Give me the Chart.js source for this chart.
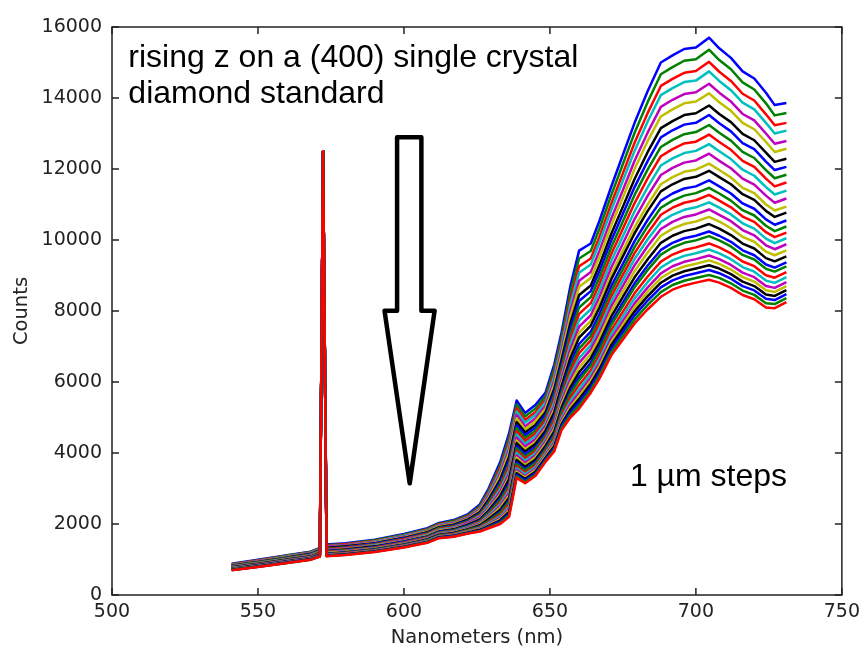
<!DOCTYPE html>
<html>
<head>
<meta charset="utf-8">
<script src="https://cdn.jsdelivr.net/npm/chart.js@4.4.1/dist/chart.umd.min.js"></script>
<style>
  html, body { margin: 0; padding: 0; background: #fff; }
</style>
</head>
<body>
<canvas id="spectraChart" width="866" height="654"></canvas>
<script>
// wavelength grid (nm) shared by all 31 spectra
const wavelengths = [541, 550, 560, 568, 571.2, 572.3, 573.5, 580, 590, 600, 608, 612, 617, 622, 626, 629, 633, 636, 638.6, 641.5,
  645, 648.5, 651.5, 654, 657, 660, 664, 667, 671, 675, 679, 683.5, 688, 692, 696, 700, 704.5, 708, 712, 716, 720, 724, 727, 731];

// counts for each 1 um step, top curve first
const stepCounts = [
  [880, 990, 1120, 1220, 1330, 12500, 1420, 1460, 1560, 1720, 1880, 2030, 2110, 2280, 2550, 3000, 3750, 4550, 5480, 5130, 5350, 5700, 6500, 7400, 8700, 9700, 9900, 10550, 11500, 12400, 13300, 14200, 15000, 15200, 15380, 15420, 15700, 15400, 15130, 14750, 14550, 14150, 13800, 13860],
  [870, 980, 1110, 1210, 1320, 12500, 1400, 1440, 1540, 1700, 1860, 2010, 2090, 2250, 2510, 2940, 3660, 4430, 5370, 5030, 5250, 5600, 6380, 7260, 8520, 9480, 9690, 10330, 11260, 12140, 13020, 13890, 14670, 14870, 15050, 15090, 15360, 15070, 14810, 14440, 14240, 13850, 13510, 13580],
  [860, 970, 1100, 1200, 1300, 12500, 1390, 1430, 1520, 1680, 1840, 1990, 2060, 2220, 2470, 2890, 3580, 4320, 5260, 4930, 5150, 5500, 6250, 7120, 8330, 9260, 9480, 10100, 11020, 11880, 12740, 13580, 14340, 14540, 14710, 14760, 15020, 14740, 14480, 14120, 13930, 13540, 13230, 13300],
  [855, 960, 1090, 1190, 1290, 12500, 1370, 1410, 1510, 1670, 1820, 1970, 2040, 2200, 2440, 2840, 3500, 4220, 5170, 4850, 5070, 5430, 6160, 7020, 8180, 9080, 9310, 9930, 10840, 11670, 12510, 13340, 14080, 14280, 14450, 14490, 14750, 14480, 14220, 13870, 13680, 13300, 13000, 13080],
  [845, 950, 1080, 1180, 1280, 12500, 1360, 1400, 1490, 1650, 1800, 1950, 2020, 2180, 2410, 2790, 3420, 4100, 5070, 4750, 4970, 5330, 6030, 6880, 8000, 8850, 9100, 9700, 10600, 11410, 12230, 13030, 13750, 13950, 14110, 14160, 14400, 14150, 13900, 13550, 13370, 13000, 12710, 12790],
  [840, 940, 1070, 1170, 1270, 12500, 1340, 1380, 1480, 1630, 1790, 1930, 2000, 2150, 2380, 2740, 3350, 4010, 4980, 4670, 4890, 5250, 5940, 6770, 7850, 8680, 8930, 9530, 10410, 11200, 12000, 12790, 13480, 13680, 13850, 13900, 14130, 13880, 13640, 13300, 13120, 12760, 12480, 12570],
  [830, 930, 1060, 1160, 1260, 12500, 1330, 1370, 1460, 1610, 1770, 1910, 1980, 2130, 2340, 2690, 3260, 3890, 4870, 4580, 4790, 5150, 5810, 6630, 7660, 8450, 8720, 9300, 10170, 10940, 11720, 12480, 13150, 13350, 13520, 13570, 13790, 13550, 13320, 12990, 12810, 12460, 12200, 12290],
  [820, 925, 1050, 1150, 1250, 12500, 1310, 1350, 1450, 1600, 1750, 1890, 1960, 2100, 2310, 2640, 3190, 3800, 4780, 4500, 4710, 5080, 5720, 6520, 7520, 8280, 8560, 9130, 9980, 10740, 11490, 12230, 12890, 13090, 13250, 13300, 13520, 13290, 13060, 12730, 12560, 12210, 11970, 12060],
  [815, 920, 1040, 1140, 1240, 12500, 1300, 1340, 1430, 1580, 1730, 1880, 1940, 2080, 2280, 2600, 3120, 3700, 4700, 4420, 4630, 5000, 5620, 6410, 7370, 8100, 8390, 8950, 9790, 10530, 11270, 11990, 12620, 12820, 12980, 13040, 13240, 13020, 12800, 12480, 12310, 11970, 11740, 11840],
  [810, 910, 1030, 1130, 1230, 12500, 1290, 1330, 1420, 1570, 1720, 1860, 1920, 2060, 2250, 2550, 3050, 3610, 4610, 4340, 4550, 4920, 5520, 6300, 7220, 7920, 8220, 8770, 9600, 10320, 11040, 11740, 12360, 12560, 12720, 12770, 12970, 12760, 12540, 12230, 12060, 11730, 11510, 11620],
  [800, 900, 1020, 1120, 1220, 12500, 1270, 1310, 1410, 1550, 1700, 1840, 1900, 2040, 2220, 2510, 2980, 3520, 4520, 4260, 4470, 4840, 5420, 6190, 7070, 7740, 8050, 8590, 9410, 10110, 10810, 11490, 12100, 12300, 12450, 12510, 12700, 12500, 12280, 11980, 11810, 11490, 11280, 11390],
  [790, 890, 1010, 1110, 1210, 12500, 1260, 1300, 1390, 1540, 1680, 1820, 1880, 2020, 2190, 2460, 2910, 3420, 4430, 4180, 4390, 4760, 5320, 6080, 6920, 7560, 7880, 8410, 9220, 9900, 10590, 11250, 11830, 12030, 12180, 12240, 12430, 12230, 12020, 11730, 11560, 11250, 11050, 11170],
  [785, 885, 1005, 1100, 1200, 12500, 1250, 1290, 1380, 1520, 1670, 1810, 1870, 1990, 2150, 2420, 2840, 3330, 4350, 4100, 4310, 4690, 5230, 5970, 6780, 7390, 7720, 8240, 9030, 9700, 10360, 11000, 11570, 11770, 11920, 11980, 12150, 11970, 11760, 11470, 11320, 11000, 10830, 10940],
  [780, 880, 1000, 1090, 1190, 12500, 1240, 1280, 1370, 1510, 1650, 1790, 1850, 1980, 2130, 2380, 2790, 3260, 4280, 4040, 4250, 4630, 5150, 5890, 6670, 7250, 7590, 8100, 8890, 9540, 10190, 10820, 11370, 11570, 11720, 11780, 11950, 11770, 11570, 11290, 11130, 10820, 10650, 10770],
  [775, 870, 990, 1080, 1180, 12500, 1230, 1270, 1350, 1500, 1640, 1780, 1830, 1960, 2100, 2340, 2720, 3160, 4190, 3960, 4170, 4550, 5050, 5780, 6520, 7070, 7420, 7920, 8700, 9330, 9970, 10570, 11110, 11310, 11450, 11510, 11680, 11510, 11310, 11030, 10880, 10580, 10430, 10550],
  [770, 865, 985, 1075, 1175, 12500, 1220, 1260, 1340, 1480, 1630, 1760, 1820, 1940, 2080, 2310, 2670, 3090, 4130, 3900, 4110, 4490, 4980, 5700, 6410, 6940, 7300, 7790, 8560, 9180, 9800, 10390, 10910, 11110, 11250, 11320, 11470, 11310, 11110, 10840, 10690, 10400, 10250, 10380],
  [765, 860, 980, 1070, 1170, 12500, 1210, 1250, 1330, 1470, 1610, 1750, 1800, 1920, 2060, 2270, 2610, 3020, 4060, 3840, 4050, 4430, 4910, 5610, 6300, 6810, 7170, 7660, 8410, 9020, 9630, 10200, 10710, 10910, 11050, 11120, 11270, 11110, 10920, 10660, 10510, 10220, 10080, 10210],
  [760, 855, 970, 1065, 1160, 12500, 1200, 1240, 1320, 1460, 1600, 1740, 1790, 1910, 2030, 2240, 2560, 2950, 4000, 3780, 3990, 4370, 4830, 5530, 6180, 6670, 7040, 7520, 8270, 8860, 9460, 10020, 10510, 10710, 10850, 10920, 11060, 10910, 10720, 10470, 10320, 10040, 9910, 10050],
  [750, 850, 965, 1055, 1150, 12500, 1190, 1230, 1310, 1450, 1590, 1725, 1775, 1890, 2010, 2200, 2510, 2880, 3930, 3720, 3930, 4320, 4760, 5450, 6070, 6540, 6920, 7390, 8130, 8710, 9290, 9830, 10310, 10510, 10650, 10720, 10860, 10710, 10530, 10280, 10130, 9850, 9740, 9880],
  [745, 840, 955, 1050, 1145, 12500, 1180, 1220, 1300, 1440, 1575, 1710, 1760, 1870, 1990, 2170, 2460, 2810, 3870, 3660, 3870, 4260, 4690, 5370, 5960, 6410, 6790, 7260, 7990, 8550, 9120, 9650, 10120, 10320, 10450, 10520, 10650, 10520, 10330, 10090, 9950, 9670, 9570, 9710],
  [740, 835, 950, 1045, 1140, 12500, 1165, 1205, 1290, 1425, 1565, 1700, 1750, 1855, 1965, 2140, 2400, 2740, 3800, 3610, 3810, 4200, 4610, 5280, 5850, 6270, 6670, 7120, 7840, 8400, 8950, 9460, 9920, 10120, 10250, 10320, 10450, 10320, 10140, 9900, 9760, 9490, 9400, 9540],
  [735, 830, 945, 1035, 1130, 12500, 1155, 1195, 1280, 1415, 1550, 1685, 1735, 1840, 1940, 2100, 2350, 2670, 3740, 3550, 3750, 4140, 4540, 5200, 5740, 6140, 6540, 6990, 7700, 8240, 8780, 9280, 9720, 9920, 10050, 10120, 10240, 10120, 9950, 9710, 9570, 9310, 9220, 9370],
  [732, 826, 940, 1030, 1125, 12500, 1150, 1190, 1273, 1408, 1544, 1677, 1725, 1829, 1927, 2082, 2315, 2623, 3690, 3510, 3710, 4100, 4490, 5145, 5666, 6051, 6456, 6901, 7605, 8136, 8667, 9157, 9588, 9788, 9920, 9990, 10110, 9990, 9820, 9580, 9450, 9190, 9110, 9260],
  [727, 820, 933, 1025, 1118, 12500, 1140, 1180, 1263, 1397, 1532, 1665, 1711, 1813, 1904, 2048, 2263, 2553, 3627, 3447, 3650, 4043, 4418, 5063, 5555, 5918, 6330, 6768, 7463, 7980, 8498, 8973, 9390, 9590, 9719, 9793, 9903, 9790, 9622, 9395, 9263, 9008, 8938, 9092],
  [723, 815, 928, 1019, 1111, 12500, 1131, 1171, 1254, 1388, 1521, 1654, 1699, 1799, 1885, 2020, 2219, 2494, 3573, 3398, 3600, 3994, 4356, 4994, 5463, 5806, 6225, 6656, 7344, 7850, 8356, 8819, 9225, 9425, 9553, 9628, 9733, 9625, 9460, 9238, 9108, 8856, 8795, 8951],
  [718, 810, 922, 1013, 1105, 12500, 1123, 1163, 1245, 1378, 1511, 1643, 1687, 1785, 1866, 1992, 2175, 2435, 3518, 3348, 3550, 3945, 4295, 4925, 5370, 5695, 6120, 6545, 7225, 7720, 8215, 8665, 9060, 9260, 9386, 9462, 9562, 9460, 9298, 9080, 8952, 8705, 8652, 8811],
  [714, 806, 918, 1008, 1100, 12500, 1116, 1156, 1238, 1370, 1503, 1634, 1678, 1774, 1851, 1970, 2140, 2388, 3474, 3308, 3510, 3906, 4246, 4870, 5296, 5606, 6036, 6456, 7130, 7616, 8102, 8542, 8928, 9128, 9253, 9330, 9426, 9328, 9168, 8954, 8828, 8584, 8538, 8699],
  [711, 802, 913, 1004, 1095, 12500, 1110, 1150, 1231, 1363, 1495, 1626, 1668, 1763, 1836, 1947, 2105, 2341, 3431, 3269, 3470, 3867, 4197, 4815, 5222, 5517, 5952, 6367, 7035, 7512, 7989, 8419, 8796, 8996, 9120, 9197, 9289, 9196, 9039, 8828, 8703, 8463, 8423, 8587],
  [707, 798, 909, 999, 1090, 12500, 1103, 1143, 1224, 1355, 1486, 1617, 1659, 1752, 1820, 1925, 2070, 2294, 3387, 3229, 3430, 3828, 4148, 4760, 5148, 5428, 5868, 6278, 6940, 7408, 7876, 8296, 8664, 8864, 8986, 9065, 9153, 9064, 8909, 8702, 8579, 8342, 8309, 8474],
  [704, 794, 904, 995, 1085, 12500, 1097, 1137, 1217, 1348, 1478, 1609, 1649, 1741, 1805, 1902, 2035, 2247, 3344, 3190, 3390, 3789, 4099, 4705, 5074, 5339, 5784, 6189, 6845, 7304, 7763, 8173, 8532, 8732, 8853, 8932, 9016, 8932, 8780, 8576, 8454, 8221, 8194, 8362],
  [700, 790, 900, 990, 1080, 12500, 1090, 1130, 1210, 1340, 1470, 1600, 1640, 1730, 1790, 1880, 2000, 2200, 3300, 3150, 3350, 3750, 4050, 4650, 5000, 5250, 5700, 6100, 6750, 7200, 7650, 8050, 8400, 8600, 8720, 8800, 8880, 8800, 8650, 8450, 8330, 8100, 8080, 8250]
];

// matplotlib classic colour cycle
const lineColors = ['#0000ff', '#008000', '#ff0000', '#00bfbf', '#bf00bf', '#bfbf00', '#000000'];

const xTicks = [500, 550, 600, 650, 700, 750];
const yTicks = [0, 2000, 4000, 6000, 8000, 10000, 12000, 14000, 16000];

// block arrow outline, in data units [nm, counts]
const arrowOutline = [[597.65, 12893], [605.97, 12893], [605.97, 8008], [610.5, 8008],
  [601.98, 3146], [593.35, 8008], [597.65, 8008]];

const notes = [
  { text: 'rising z on a (400) single crystal', nm: 505.6, counts: 14874 },
  { text: 'diamond standard', nm: 505.6, counts: 13860 },
  { text: '1 \u00b5m steps', nm: 677.4, counts: 3070 }
];

const tickFont = { family: '"DejaVu Sans", sans-serif', size: 19 };
const titleFont = { family: '"DejaVu Sans", sans-serif', size: 19.5 };

// frame, inward ticks on all sides, arrow and text
const decorPlugin = {
  id: 'decor',
  afterDraw(chart) {
    const { ctx, chartArea: a, scales: { x, y } } = chart;
    ctx.save();
    ctx.strokeStyle = '#222';
    ctx.lineWidth = 1.5;
    ctx.strokeRect(a.left, a.top, a.right - a.left, a.bottom - a.top);
    ctx.beginPath();
    xTicks.forEach(v => {
      const px = x.getPixelForValue(v);
      ctx.moveTo(px, a.bottom); ctx.lineTo(px, a.bottom - 7);
      ctx.moveTo(px, a.top); ctx.lineTo(px, a.top + 7);
    });
    yTicks.forEach(v => {
      const py = y.getPixelForValue(v);
      ctx.moveTo(a.left, py); ctx.lineTo(a.left + 7, py);
      ctx.moveTo(a.right, py); ctx.lineTo(a.right - 7, py);
    });
    ctx.stroke();

    ctx.strokeStyle = '#000';
    ctx.lineWidth = 4.5;
    ctx.lineJoin = 'round';
    ctx.beginPath();
    arrowOutline.forEach(([nm, c], i) => {
      const px = x.getPixelForValue(nm), py = y.getPixelForValue(c);
      if (i === 0) ctx.moveTo(px, py); else ctx.lineTo(px, py);
    });
    ctx.closePath();
    ctx.stroke();

    ctx.fillStyle = '#000';
    ctx.font = '32px "Liberation Sans", Arial, sans-serif';
    ctx.textAlign = 'left';
    ctx.textBaseline = 'alphabetic';
    notes.forEach(n => ctx.fillText(n.text, x.getPixelForValue(n.nm), y.getPixelForValue(n.counts)));
    ctx.restore();
  }
};

const datasets = stepCounts.map((row, k) => ({
  data: row.map((c, i) => ({ x: wavelengths[i], y: c })),
  borderColor: lineColors[k % lineColors.length],
  borderWidth: 2.5,
  borderJoinStyle: 'round',
  pointRadius: 0,
  fill: false,
  tension: 0,
  order: stepCounts.length - k // later steps drawn on top
}));

const ctx = document.getElementById('spectraChart').getContext('2d');
const spectraChart = new Chart(ctx, {
  type: 'line',
  data: { datasets: datasets },
  options: {
    responsive: false,
    animation: false,
    events: [],
    layout: { padding: { top: 27, right: 21, left: 0, bottom: 0 } },
    plugins: { legend: { display: false }, tooltip: { enabled: false } },
    scales: {
      x: {
        type: 'linear',
        min: 500,
        max: 750,
        afterBuildTicks: s => { s.ticks = xTicks.map(v => ({ value: v })); },
        afterFit: s => { s.height = 59; },
        grid: { display: false, drawTicks: false, tickLength: 0 },
        border: { display: false },
        ticks: { font: tickFont, color: '#222', padding: 6, maxRotation: 0, callback: v => String(v) },
        title: { display: true, text: 'Nanometers (nm)', font: titleFont, color: '#222', padding: { top: 0, bottom: 4 } }
      },
      y: {
        type: 'linear',
        min: 0,
        max: 16000,
        afterBuildTicks: s => { s.ticks = yTicks.map(v => ({ value: v })); },
        afterFit: s => { s.width = 112; },
        grid: { display: false, drawTicks: false, tickLength: 0 },
        border: { display: false },
        ticks: { font: tickFont, color: '#222', padding: 10, callback: v => String(v) },
        title: { display: true, text: 'Counts', font: titleFont, color: '#222', padding: { top: 10, bottom: 0 } }
      }
    }
  },
  plugins: [decorPlugin]
});
</script>
</body>
</html>
